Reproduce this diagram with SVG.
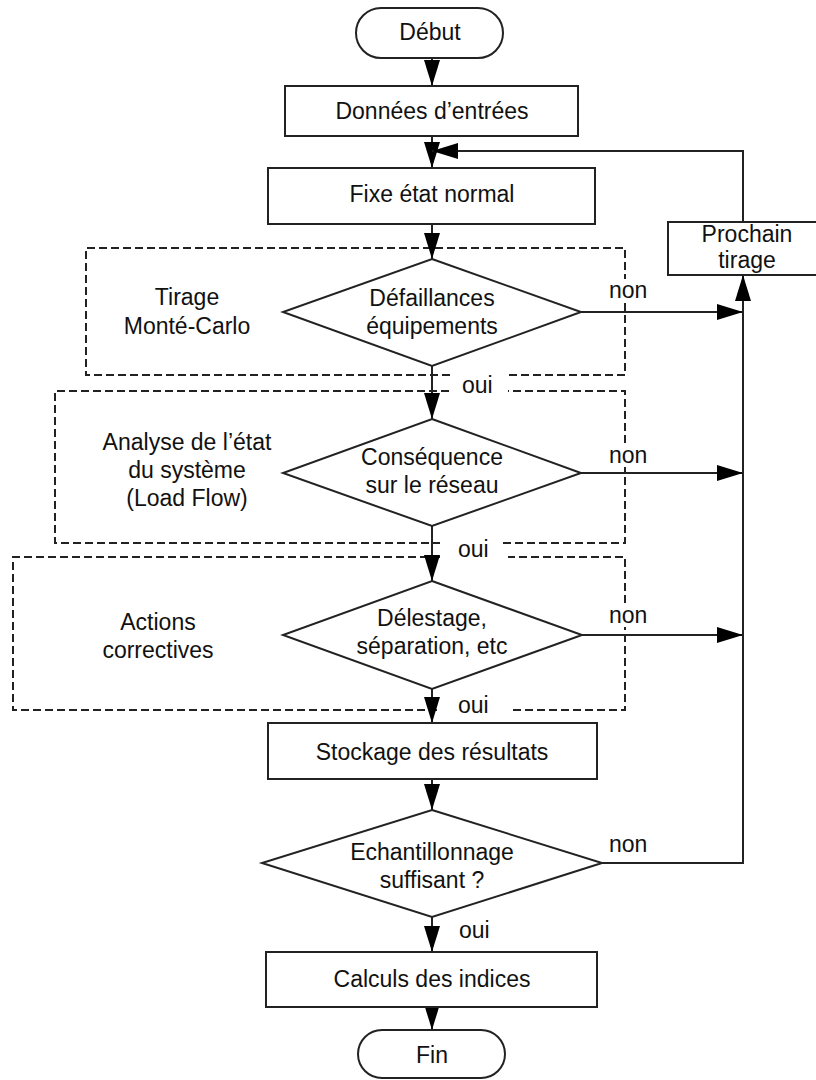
<svg xmlns="http://www.w3.org/2000/svg" width="816" height="1080" viewBox="0 0 816 1080">
<style>
text{font-family:"Liberation Sans",Arial,sans-serif;font-size:23px;fill:#111;text-anchor:middle}
.lbl{text-anchor:start}
.shape{fill:#fff;stroke:#222;stroke-width:2}
.dash{fill:none;stroke:#222;stroke-width:2;stroke-dasharray:8 4}
.conn{fill:none;stroke:#222;stroke-width:2}
</style>
<defs>
<marker id="ah" markerUnits="userSpaceOnUse" markerWidth="26" markerHeight="16" refX="26" refY="8" orient="auto">
<path d="M0,0 L26,8 L0,16 Z" fill="#000"/>
</marker>
</defs>
<rect width="816" height="1080" fill="#fff"/>

<g id="groups">
<path class="dash" d="M450,375 H86 V248 H625 V279 M625,303 V375 H508"/>
<path class="dash" d="M449,391 H55 V543 H440 M503,543 H625 V467 M625,443 V391 H508"/>
<path class="dash" d="M440,557 H13 V710 H440 M513,710 H625 V627 M625,603 V557 H508"/>
<text x="187" y="305">Tirage</text>
<text x="187" y="334">Monté-Carlo</text>
<text x="187" y="450">Analyse de l’état</text>
<text x="187" y="478">du système</text>
<text x="187" y="506">(Load Flow)</text>
<text x="158" y="630">Actions</text>
<text x="158" y="658">correctives</text>
</g>

<g id="connectors">
<line class="conn" x1="432" y1="58" x2="432" y2="86" marker-end="url(#ah)"/>
<line class="conn" x1="432" y1="136" x2="432" y2="168" marker-end="url(#ah)"/>
<line class="conn" x1="432" y1="224" x2="432" y2="259" marker-end="url(#ah)"/>
<line class="conn" x1="432" y1="366" x2="432" y2="419" marker-end="url(#ah)"/>
<line class="conn" x1="432" y1="526" x2="432" y2="581" marker-end="url(#ah)"/>
<line class="conn" x1="432" y1="689" x2="432" y2="723" marker-end="url(#ah)"/>
<line class="conn" x1="432" y1="779" x2="432" y2="810" marker-end="url(#ah)"/>
<line class="conn" x1="432" y1="917" x2="432" y2="952" marker-end="url(#ah)"/>
<line class="conn" x1="432" y1="1007" x2="432" y2="1030" marker-end="url(#ah)"/>
<line class="conn" x1="581" y1="312" x2="743" y2="312" marker-end="url(#ah)"/>
<line class="conn" x1="581" y1="473" x2="743" y2="473" marker-end="url(#ah)"/>
<line class="conn" x1="582" y1="635" x2="743" y2="635" marker-end="url(#ah)"/>
<path class="conn" d="M602,863 H743 V275" marker-end="url(#ah)"/>
<path class="conn" d="M743,222 V151 H432" marker-end="url(#ah)"/>
<text class="lbl" x="609" y="298">non</text>
<text class="lbl" x="609" y="463">non</text>
<text class="lbl" x="609" y="623">non</text>
<text class="lbl" x="609" y="852">non</text>
<text class="lbl" x="462" y="393">oui</text>
<text class="lbl" x="458" y="557">oui</text>
<text class="lbl" x="458" y="713">oui</text>
<text class="lbl" x="459" y="938">oui</text>
</g>

<g id="debut">
<rect class="shape" x="356" y="8" width="147" height="50" rx="25"/>
<text x="430" y="40">Début</text>
</g>
<g id="donnees">
<rect class="shape" x="285" y="86" width="293" height="50"/>
<text x="432" y="119">Données d’entrées</text>
</g>
<g id="fixe">
<rect class="shape" x="268" y="168" width="327" height="56"/>
<text x="432" y="202">Fixe état normal</text>
</g>
<g id="prochain">
<rect class="shape" x="668" y="222" width="150" height="53"/>
<text x="747" y="242">Prochain</text>
<text x="747" y="268">tirage</text>
</g>
<g id="defaillances">
<polygon class="shape" points="432,259 581,312 432,366 283,312"/>
<text x="432" y="306">Défaillances</text>
<text x="432" y="334">équipements</text>
</g>
<g id="consequence">
<polygon class="shape" points="432,419 581,473 432,526 283,473"/>
<text x="432" y="465">Conséquence</text>
<text x="432" y="493">sur le réseau</text>
</g>
<g id="delestage">
<polygon class="shape" points="432,581 582,635 432,689 283,635"/>
<text x="432" y="626">Délestage,</text>
<text x="432" y="654">séparation, etc</text>
</g>
<g id="stockage">
<rect class="shape" x="268" y="723" width="329" height="56"/>
<text x="432" y="760">Stockage des résultats</text>
</g>
<g id="echantillonnage">
<polygon class="shape" points="432,810 602,863 432,917 262,863"/>
<text x="432" y="860">Echantillonnage</text>
<text x="432" y="888">suffisant ?</text>
</g>
<g id="calculs">
<rect class="shape" x="266" y="952" width="331" height="55"/>
<text x="432" y="987">Calculs des indices</text>
</g>
<g id="fin">
<rect class="shape" x="358" y="1030" width="147" height="48" rx="24"/>
<text x="432" y="1063">Fin</text>
</g>
</svg>
